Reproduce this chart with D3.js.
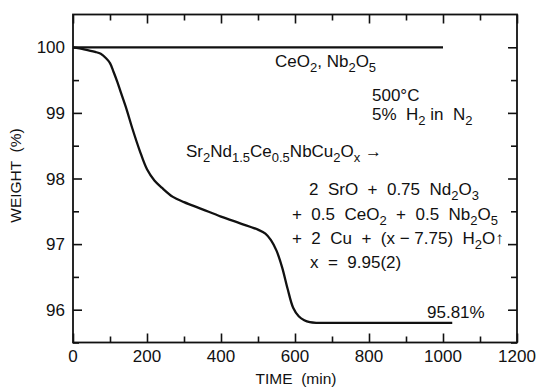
<!DOCTYPE html>
<html>
<head>
<meta charset="utf-8">
<script src="https://cdn.jsdelivr.net/npm/d3@7"></script>
<style>
  body { margin: 0; background: #fff; }
  svg { display: block; font-family: "Liberation Sans", Arial, sans-serif; }
  text { white-space: pre; fill: #111; }
</style>
</head>
<body>
<svg id="chart" width="539" height="387"></svg>
<script>
// TGA curve of Sr2Nd1.5Ce0.5NbCu2Ox in 5% H2/N2 at 500 C
const timeMin = [0, 30, 60, 75, 90, 100, 110, 120, 130, 145, 160, 180, 200, 220, 240, 270, 300, 350, 400, 450, 500, 520, 535, 550, 565, 580, 595, 610, 625, 640, 660, 700, 800, 900, 1025];
const weightPct = [100, 99.97, 99.93, 99.9, 99.83, 99.76, 99.62, 99.47, 99.30, 99.05, 98.77, 98.43, 98.14, 97.97, 97.86, 97.72, 97.64, 97.53, 97.42, 97.32, 97.22, 97.16, 97.06, 96.90, 96.65, 96.32, 96.03, 95.90, 95.84, 95.81, 95.80, 95.80, 95.80, 95.80, 95.80];

// reference (CeO2, Nb2O5) stays flat
const refTime = [0, 1000];
const refWeight = [100, 100];

const xTicks = [0, 200, 400, 600, 800, 1000, 1200];
const xMinor = [100, 300, 500, 700, 900, 1100];
const yTicks = [96, 97, 98, 99, 100];
const yMinor = [95.5, 96.5, 97.5, 98.5, 99.5];

const margin = {top: 14.5, right: 22, bottom: 44.5, left: 73};
const width = 539, height = 387;

const svg = d3.select('#chart');

const x = d3.scaleLinear()
  .domain([0, 1200])
  .range([margin.left, width - margin.right]);

const y = d3.scaleLinear()
  .domain([95.5, 100.5])
  .range([height - margin.bottom, margin.top]);

const major = 9, minor = 6;

// frame
svg.append('rect')
  .attr('x', x(0)).attr('y', y(100.5))
  .attr('width', x(1200) - x(0)).attr('height', y(95.5) - y(100.5))
  .attr('fill', 'none').attr('stroke', '#111').attr('stroke-width', 1.8);

// ticks point inward on all four sides
function xAxis(sel, top, ticks, len) {
  sel.call((top ? d3.axisBottom(x) : d3.axisTop(x)).tickValues(ticks).tickSize(len).tickFormat(''))
    .call(g => g.select('.domain').remove())
    .call(g => g.selectAll('line').attr('stroke', '#111').attr('stroke-width', 1.6));
}
function yAxis(sel, right, ticks, len) {
  sel.call((right ? d3.axisLeft(y) : d3.axisRight(y)).tickValues(ticks).tickSize(len).tickFormat(''))
    .call(g => g.select('.domain').remove())
    .call(g => g.selectAll('line').attr('stroke', '#111').attr('stroke-width', 1.6));
}

svg.append('g').attr('transform', `translate(0,${y(95.5)})`).call(xAxis, false, xTicks, major);
svg.append('g').attr('transform', `translate(0,${y(95.5)})`).call(xAxis, false, xMinor, minor);
svg.append('g').attr('transform', `translate(0,${y(100.5)})`).call(xAxis, true, xTicks, major);
svg.append('g').attr('transform', `translate(0,${y(100.5)})`).call(xAxis, true, xMinor, minor);
svg.append('g').attr('transform', `translate(${x(0)},0)`).call(yAxis, false, yTicks, major);
svg.append('g').attr('transform', `translate(${x(0)},0)`).call(yAxis, false, yMinor, minor);
svg.append('g').attr('transform', `translate(${x(1200)},0)`).call(yAxis, true, yTicks, major);
svg.append('g').attr('transform', `translate(${x(1200)},0)`).call(yAxis, true, yMinor, minor);

// tick labels
svg.append('g').selectAll('text')
  .data(xTicks)
  .enter().append('text')
  .attr('x', d => x(d))
  .attr('y', 362)
  .attr('text-anchor', 'middle')
  .style('font-size', '17px')
  .text(d => d);

svg.append('g').selectAll('text')
  .data(yTicks)
  .enter().append('text')
  .attr('x', 65)
  .attr('y', d => y(d) + 6)
  .attr('text-anchor', 'end')
  .style('font-size', '17px')
  .text(d => d);

// axis titles
svg.append('text')
  .attr('x', x(600) + 1).attr('y', 384)
  .attr('text-anchor', 'middle')
  .style('font-size', '15.5px')
  .text('TIME  (min)');

svg.append('text')
  .attr('transform', `translate(21,${(y(95.5) + y(100.5)) / 2 - 3}) rotate(-90)`)
  .attr('text-anchor', 'middle')
  .style('font-size', '15.5px')
  .text('WEIGHT  (%)');

// curves
const line = d3.line()
  .x(d => x(d[0]))
  .y(d => y(d[1]))
  .curve(d3.curveCatmullRom.alpha(0.5));

svg.append('path')
  .datum(d3.zip(refTime, refWeight))
  .attr('d', line)
  .attr('fill', 'none').attr('stroke', '#111').attr('stroke-width', 2.3);

svg.append('path')
  .datum(d3.zip(timeMin, weightPct))
  .attr('d', line)
  .attr('fill', 'none').attr('stroke', '#111').attr('stroke-width', 2.3)
  .attr('stroke-linejoin', 'round');

// annotations, [text, isSubscript]
function label(px, py, parts) {
  const t = svg.append('text').attr('x', px).attr('y', py).style('font-size', '17px');
  let down = false;
  parts.forEach(p => {
    const sub = p[1] === 1;
    t.append('tspan')
      .attr('dy', sub === down ? 0 : (sub ? 5 : -5))
      .style('font-size', sub ? '13px' : '17px')
      .text(p[0]);
    down = sub;
  });
}

label(275, 67, [['CeO', 0], ['2', 1], [', Nb', 0], ['2', 1], ['O', 0], ['5', 1]]);
label(372, 101, [['500°C', 0]]);
label(372, 120, [['5%  H', 0], ['2', 1], [' in  N', 0], ['2', 1]]);
label(186, 157, [['Sr', 0], ['2', 1], ['Nd', 0], ['1.5', 1], ['Ce', 0], ['0.5', 1], ['NbCu', 0], ['2', 1], ['O', 0], ['x', 1], [' →', 0]]);
label(309, 195, [['2  SrO  +  0.75  Nd', 0], ['2', 1], ['O', 0], ['3', 1]]);
label(292, 220, [['+  0.5  CeO', 0], ['2', 1], ['  +  0.5  Nb', 0], ['2', 1], ['O', 0], ['5', 1]]);
label(292, 244, [['+  2  Cu  +  (x − 7.75)  H', 0], ['2', 1], ['O', 0], ['↑', 0]]);
label(310, 268, [['x  =  9.95(2)', 0]]);
label(427, 318, [['95.81%', 0]]);
</script>
</body>
</html>
